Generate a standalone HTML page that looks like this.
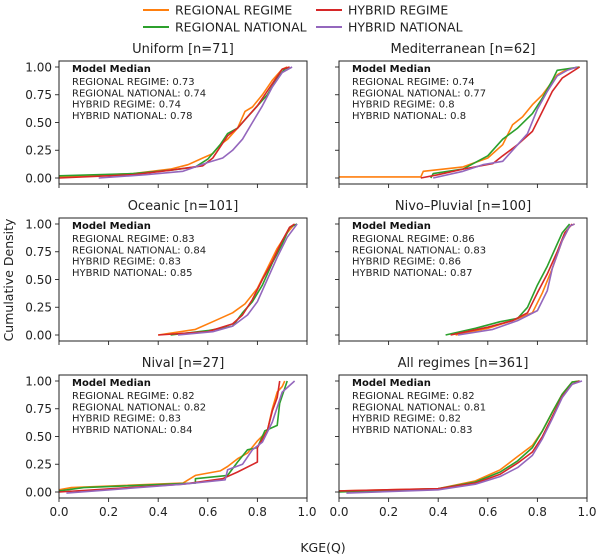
<!DOCTYPE html>
<html><head><meta charset="utf-8"><style>
body{margin:0;background:#fff;}
svg{display:block;font-family:"DejaVu Sans","Liberation Sans",sans-serif;}
</style></head><body>
<svg id="fig" width="600" height="558" viewBox="0 0 600 558" xmlns="http://www.w3.org/2000/svg"></svg>
<script>
const seriesNames = ["REGIONAL REGIME","REGIONAL NATIONAL","HYBRID REGIME","HYBRID NATIONAL"];
const seriesColors = ["#ff7f0e","#2ca02c","#d62728","#9467bd"];
const panelTitles = ["Uniform [n=71]","Mediterranean [n=62]","Oceanic [n=101]","Nivo\u2013Pluvial [n=100]","Nival [n=27]","All regimes [n=361]"];
const medians = [[0.73,0.74,0.74,0.78],[0.74,0.77,0.8,0.8],[0.83,0.84,0.83,0.85],[0.86,0.83,0.86,0.87],[0.82,0.82,0.83,0.84],[0.82,0.81,0.82,0.83]];
const xTicks = [0.0,0.2,0.4,0.6,0.8,1.0];
const yTicks = [0.0,0.25,0.5,0.75,1.0];

const uniformX = [[0,0.3,0.45,0.52,0.58,0.62,0.65,0.68,0.72,0.75,0.78,0.82,0.86,0.9,0.92],[0,0.3,0.45,0.55,0.6,0.65,0.68,0.72,0.76,0.8,0.84,0.88,0.91,0.93],[0,0.3,0.45,0.58,0.62,0.65,0.68,0.72,0.76,0.8,0.83,0.86,0.9,0.93],[0.16,0.35,0.5,0.6,0.66,0.7,0.74,0.78,0.82,0.86,0.9,0.94]];
const uniformY = [[0.01,0.04,0.08,0.12,0.18,0.22,0.3,0.35,0.45,0.6,0.64,0.75,0.88,0.98,1],[0.02,0.04,0.07,0.1,0.17,0.3,0.4,0.45,0.55,0.65,0.75,0.9,0.98,1],[0,0.03,0.07,0.11,0.18,0.28,0.38,0.45,0.55,0.65,0.75,0.85,0.98,1],[0,0.03,0.06,0.14,0.18,0.25,0.35,0.5,0.65,0.82,0.95,1]];
const medX = [[0,0.33,0.34,0.5,0.6,0.66,0.7,0.74,0.78,0.82,0.88,0.92,0.97],[0.37,0.38,0.5,0.6,0.66,0.72,0.78,0.82,0.86,0.88,0.97],[0.33,0.4,0.5,0.62,0.66,0.72,0.78,0.82,0.86,0.9,0.97],[0.38,0.5,0.58,0.66,0.72,0.76,0.8,0.84,0.88,0.92,0.96]];
const medY = [[0.01,0.01,0.06,0.1,0.18,0.3,0.48,0.55,0.66,0.75,0.93,0.98,1],[0,0.04,0.08,0.2,0.35,0.45,0.58,0.72,0.88,0.97,1],[0,0.03,0.08,0.13,0.2,0.3,0.42,0.6,0.78,0.9,1],[0,0.06,0.12,0.15,0.3,0.4,0.62,0.78,0.92,0.97,1]];
const oceX = [[0.4,0.55,0.62,0.7,0.75,0.8,0.84,0.88,0.92,0.95],[0.45,0.6,0.7,0.74,0.78,0.82,0.86,0.9,0.93,0.96],[0.4,0.6,0.7,0.74,0.78,0.82,0.86,0.9,0.93,0.95],[0.48,0.62,0.7,0.76,0.8,0.84,0.88,0.92,0.96]];
const oceY = [[0,0.05,0.12,0.2,0.28,0.42,0.6,0.78,0.92,1],[0,0.04,0.08,0.2,0.3,0.45,0.65,0.82,0.97,1],[0,0.03,0.1,0.18,0.32,0.5,0.66,0.85,0.97,1],[0,0.03,0.08,0.18,0.3,0.5,0.7,0.88,1]];
const nivoX = [[0.47,0.6,0.7,0.78,0.82,0.86,0.9,0.93,0.95],[0.43,0.55,0.65,0.72,0.76,0.8,0.84,0.88,0.9,0.93],[0.45,0.6,0.7,0.76,0.8,0.84,0.88,0.91,0.94],[0.48,0.62,0.72,0.8,0.84,0.86,0.9,0.93,0.95]];
const nivoY = [[0,0.06,0.13,0.2,0.38,0.6,0.85,0.98,1],[0,0.06,0.12,0.15,0.25,0.45,0.62,0.82,0.92,1],[0,0.07,0.13,0.2,0.38,0.55,0.75,0.92,1],[0,0.05,0.13,0.22,0.4,0.6,0.85,0.98,1]];
const nivalX = [[0,0.05,0.5,0.55,0.65,0.68,0.72,0.76,0.8,0.84,0.86,0.88,0.9,0.91],[0,0.1,0.55,0.55,0.68,0.72,0.76,0.8,0.83,0.88,0.89,0.92],[0,0.5,0.66,0.72,0.8,0.8,0.84,0.86,0.88,0.89],[0.03,0.5,0.67,0.68,0.74,0.78,0.82,0.86,0.9,0.95]];
const nivalY = [[0.02,0.04,0.08,0.15,0.19,0.23,0.3,0.35,0.46,0.55,0.75,0.9,0.95,1],[0.01,0.04,0.08,0.12,0.15,0.27,0.38,0.4,0.55,0.6,0.8,1],[0,0.07,0.12,0.18,0.27,0.4,0.55,0.73,0.85,1],[-0.01,0.07,0.11,0.2,0.25,0.38,0.45,0.63,0.9,1]];
const allX = [[0,0.4,0.55,0.65,0.72,0.78,0.82,0.86,0.9,0.94,0.97],[0,0.4,0.55,0.65,0.72,0.78,0.82,0.86,0.9,0.94,0.97],[0,0.4,0.55,0.65,0.72,0.78,0.82,0.86,0.9,0.94,0.97],[0.03,0.4,0.55,0.65,0.72,0.78,0.82,0.86,0.9,0.94,0.98]];
const allY = [[0.01,0.03,0.1,0.2,0.32,0.42,0.55,0.72,0.88,0.99,1],[0,0.03,0.09,0.18,0.28,0.4,0.55,0.72,0.88,0.99,1],[0.01,0.03,0.08,0.16,0.26,0.36,0.5,0.68,0.86,0.97,1],[-0.01,0.02,0.07,0.14,0.22,0.33,0.48,0.66,0.85,0.97,1]];
const panelXs = [uniformX, medX, oceX, nivoX, nivalX, allX];
const panelYs = [uniformY, medY, oceY, nivoY, nivalY, allY];

const NS = "http://www.w3.org/2000/svg";
const svg = document.getElementById("fig");
function mk(tag, attrs, parent){const e=document.createElementNS(NS,tag);for(const k in attrs)e.setAttribute(k,attrs[k]);(parent||svg).appendChild(e);return e;}
const colX=[59,339], rowTop=[61,218,375], W=248, H=123;

const legendPos=[[143,10],[143,27],[316,10],[316,27]];
for(let s=0;s<4;s++){
  const g=mk("g",{});
  
  
  const [lx,ly]=legendPos[s];
  mk("line",{x1:lx,y1:ly,x2:lx+26,y2:ly,stroke:seriesColors[s],"stroke-width":2},g);
  const t=mk("text",{x:lx+32,y:ly+4.5,"font-size":12.5,fill:"#222"},g);t.textContent=seriesNames[s];
}

for(let p=0;p<6;p++){
  const x0=colX[p%2], top=rowTop[Math.floor(p/2)];
  const sx=v=>x0+v*W, sy=v=>top+6+(1-v)*111;
  const g=mk("g",{});
  
  
  const cid="clip"+p;
  const cp=mk("clipPath",{id:cid},g);mk("rect",{x:x0,y:top,width:W,height:H},cp);
  const tt=mk("text",{x:x0+W/2,y:top-8,"text-anchor":"middle","font-size":13,fill:"#222"},g);
  
  
  tt.textContent=panelTitles[p];
  for(let s=0;s<4;s++){
    const xs=panelXs[p][s], ys=panelYs[p][s];
    const pts=xs.map((v,i)=>sx(v).toFixed(1)+","+sy(ys[i]).toFixed(1)).join(" ");
    const pl=mk("polyline",{points:pts,fill:"none",stroke:seriesColors[s],"stroke-width":1.6,"stroke-linejoin":"round","clip-path":"url(#"+cid+")"},g);
    
    
  }
  mk("rect",{x:x0,y:top,width:W,height:H,fill:"none",stroke:"#222","stroke-width":1},g);
  yTicks.forEach(v=>{
    mk("line",{x1:x0-4,y1:sy(v),x2:x0,y2:sy(v),stroke:"#222","stroke-width":0.9},g);
    if(p%2===0){const t=mk("text",{x:x0-7,y:sy(v)+4.3,"text-anchor":"end","font-size":12,fill:"#222"},g);t.textContent=v.toFixed(2);}
  });
  xTicks.forEach(v=>{
    mk("line",{x1:sx(v),y1:top+H,x2:sx(v),y2:top+H+4,stroke:"#222","stroke-width":0.9},g);
    if(p>=4){const t=mk("text",{x:sx(v),y:top+H+18,"text-anchor":"middle","font-size":12,fill:"#222"},g);t.textContent=v.toFixed(1);}
  });
  const tb=mk("text",{x:x0+13,y:top+11,"font-size":10,"font-weight":"bold",fill:"#111"},g);tb.textContent="Model Median";
  for(let s=0;s<4;s++){
    const t=mk("text",{x:x0+13,y:top+24+s*11.3,"font-size":10,fill:"#222"},g);
    t.textContent=seriesNames[s]+": "+medians[p][s];
  }
}
const yl=mk("text",{x:0,y:0,transform:"translate(13,280) rotate(-90)","text-anchor":"middle","font-size":12.5,fill:"#222"});


yl.textContent="Cumulative Density";
const xl=mk("text",{x:323,y:552,"text-anchor":"middle","font-size":12.5,fill:"#222"});


xl.textContent="KGE(Q)";
</script>
</body></html>
